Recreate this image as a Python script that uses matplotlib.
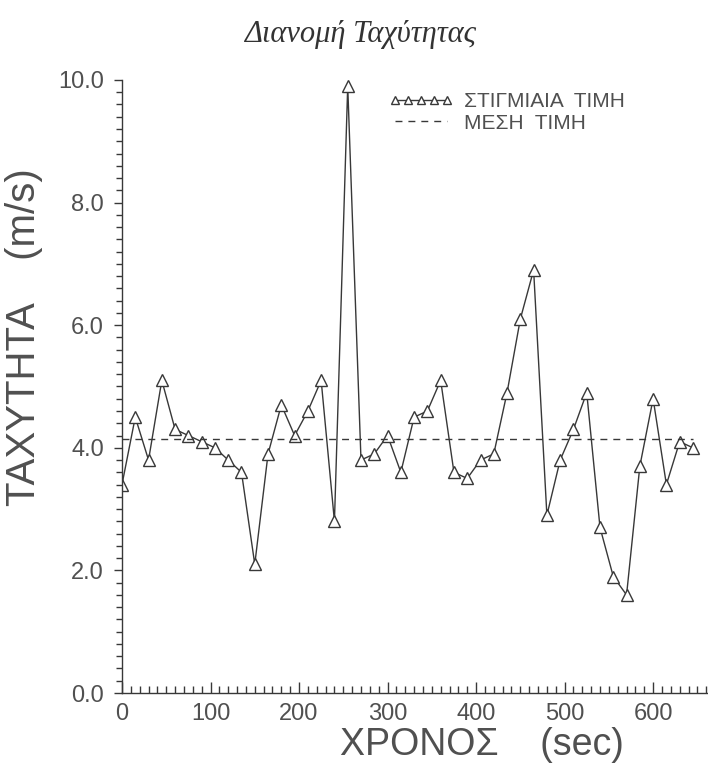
import numpy as np
import matplotlib
matplotlib.use("Agg")
from matplotlib import pyplot as plt
from matplotlib.ticker import MultipleLocator, FormatStrFormatter

# time (sec) and instantaneous speed (m/s)
time = np.arange(0, 646, 15)
speed = [3.4, 4.5, 3.8, 5.1, 4.3, 4.2, 4.1, 4.0, 3.8, 3.6,
         2.1, 3.9, 4.7, 4.2, 4.6, 5.1, 2.8, 9.9, 3.8, 3.9,
         4.2, 3.6, 4.5, 4.6, 5.1, 3.6, 3.5, 3.8, 3.9, 4.9,
         6.1, 6.9, 2.9, 3.8, 4.3, 4.9, 2.7, 1.9, 1.6, 3.7,
         4.8, 3.4, 4.1, 4.0]
mean_speed = np.mean(speed)

ink = "#383838"
txt = "#505050"
plt.rcParams["font.family"] = ["Liberation Sans", "DejaVu Sans"]

fig = plt.figure(figsize=(7.08, 7.66), dpi=100)
ax = fig.add_axes([0.1723, 0.0953, 0.8277, 0.8003])

ax.plot(time, speed, color=ink, linewidth=1.0, marker="^", markersize=8.5,
        markerfacecolor="white", markeredgecolor=ink, markeredgewidth=1.0,
        label="ΣΤΙΓΜΙΑΙΑ  ΤΙΜΗ")
ax.plot([time[0], time[-1]], [mean_speed, mean_speed], color=ink,
        linewidth=1.0, linestyle=(0, (5, 4.3)), label="ΜΕΣΗ  ΤΙΜΗ")

ax.set_xlim(0, 662)
ax.set_ylim(0, 10)

for s in ["top", "right"]:
    ax.spines[s].set_visible(False)
for s in ["left", "bottom"]:
    ax.spines[s].set_color(ink)
    ax.spines[s].set_linewidth(1.0)

ax.xaxis.set_major_locator(MultipleLocator(100))
ax.xaxis.set_minor_locator(MultipleLocator(10))
ax.yaxis.set_major_locator(MultipleLocator(2))
ax.yaxis.set_minor_locator(MultipleLocator(0.2))
ax.yaxis.set_major_formatter(FormatStrFormatter("%.1f"))

ax.tick_params(axis="x", which="major", direction="in", length=8, width=1, color=ink,
               labelsize=17, labelcolor=txt, pad=7.5)
ax.tick_params(axis="x", which="minor", direction="in", length=5, width=1, color=ink)
ax.tick_params(axis="y", which="major", direction="out", length=6, width=1, color=ink,
               labelsize=17, labelcolor=txt, pad=7)
ax.tick_params(axis="y", which="minor", direction="out", length=4, width=1, color=ink)

ax.set_xlabel("ΧΡΟΝΟΣ    (sec)", fontsize=27, color=txt)
ax.xaxis.set_label_coords(0.614, -0.055)
ax.set_ylabel("ΤΑΧΥΤΗΤΑ    (m/s)", fontsize=29, color=txt)
ax.yaxis.set_label_coords(-0.135, 0.58)

fig.suptitle("Διανομή Ταχύτητας", x=0.508, y=0.974, fontsize=22,
             family="Liberation Serif", style="italic", color="#333333")

leg = ax.legend(loc="upper left", bbox_to_anchor=(0.455, 0.98), frameon=False,
                numpoints=5, handlelength=3.1, handletextpad=0.5,
                labelspacing=0.12, fontsize=15, borderpad=0, borderaxespad=0)
for t in leg.get_texts():
    t.set_color(txt)
for h in leg.legend_handles:
    h.set_markersize(6)

fig.savefig("out.png", dpi=100, facecolor="white")
